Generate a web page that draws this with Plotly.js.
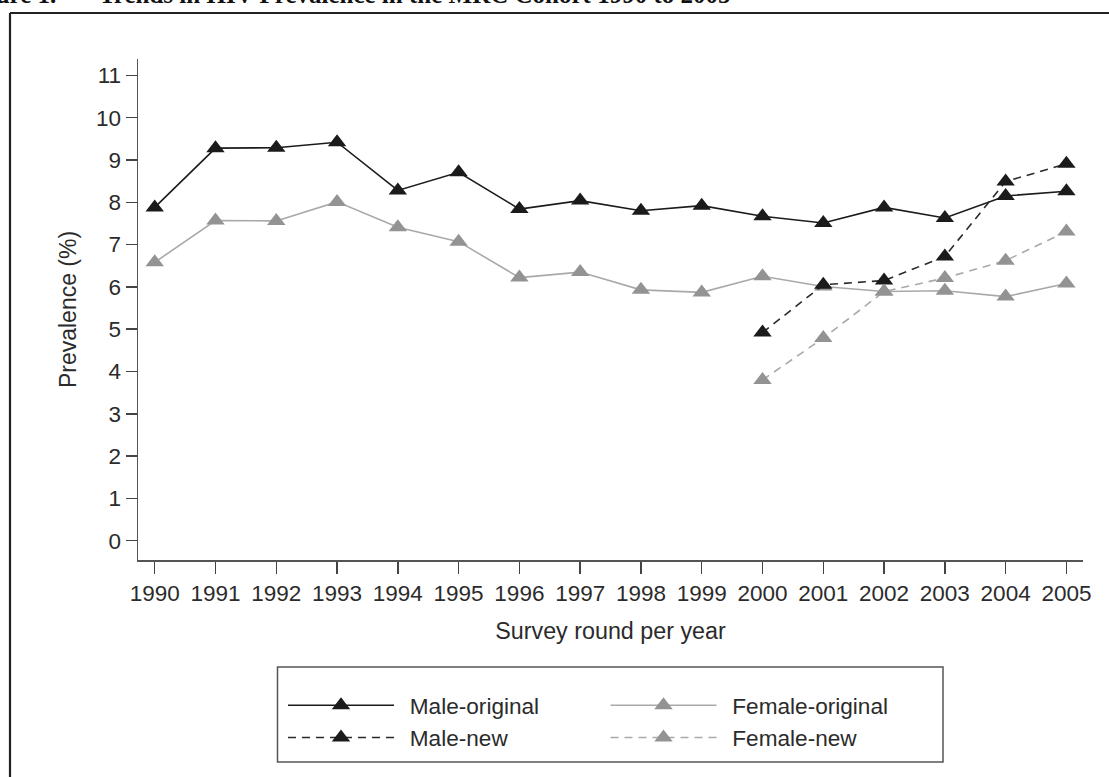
<!DOCTYPE html>
<html>
<head>
<meta charset="utf-8">
<script src="https://cdn.plot.ly/plotly-3.0.1.min.js"></script>
<style>
  html, body { margin: 0; padding: 0; background: #ffffff; }
  #chart { width: 1109px; height: 777px; }
</style>
</head>
<body>
<div id="chart"></div>
<script>
// ---- data ----
const years = [1990, 1991, 1992, 1993, 1994, 1995, 1996, 1997, 1998, 1999, 2000, 2001, 2002, 2003, 2004, 2005];
const maleOriginal   = [7.88, 9.28, 9.29, 9.42, 8.28, 8.71, 7.84, 8.04, 7.80, 7.92, 7.67, 7.51, 7.88, 7.63, 8.15, 8.26];
const femaleOriginal = [6.58, 7.57, 7.56, 8.01, 7.41, 7.07, 6.22, 6.35, 5.93, 5.87, 6.25, 6.01, 5.89, 5.91, 5.77, 6.08];
const newYears  = [2000, 2001, 2002, 2003, 2004, 2005];
const maleNew   = [4.92, 6.05, 6.15, 6.72, 8.49, 8.91];
const femaleNew = [3.80, 4.79, 5.89, 6.21, 6.62, 7.31];
const yTicks = [0, 1, 2, 3, 4, 5, 6, 7, 8, 9, 10, 11];
const seriesNames = ['Male-original', 'Female-original', 'Male-new', 'Female-new'];
const figureLabel = 'Figure 1.';
const figureTitle = 'Trends in HIV Prevalence in the MRC Cohort 1990 to 2005';
const xTitle = 'Survey round per year';
const yTitle = 'Prevalence (%)';

// ---- styling ----
const W = 1109, H = 777;
const M = { l: 138, r: 26, t: 59, b: 217 };
const PW = W - M.l - M.r, PH = H - M.t - M.b;
const px2x = p => (p - M.l) / PW;
const px2y = p => (H - M.b - p) / PH;

const black = '#1b1b1b';
const greyMarker = '#939393';
const greyLine = '#a9a9a9';
const font = 'Liberation Sans, Arial, Helvetica, sans-serif';
const txt = '#2b2b2b';
const pad = '\u00a0\u2009';   // small gap between legend symbol and label

const mk = c => ({ symbol: 'triangle-up', size: 16, color: c });
const traces = [
  { x: years, y: maleOriginal, name: pad + seriesNames[0], legend: 'legend',
    mode: 'lines+markers', line: { color: black, width: 1.6 }, marker: mk(black) },
  { x: years, y: femaleOriginal, name: pad + seriesNames[1], legend: 'legend2',
    mode: 'lines+markers', line: { color: greyLine, width: 1.6 }, marker: mk(greyMarker) },
  { x: newYears, y: maleNew, name: pad + seriesNames[2], legend: 'legend',
    mode: 'lines+markers', line: { color: '#2a2a2a', width: 1.6, dash: '8px,6px' }, marker: mk(black) },
  { x: newYears, y: femaleNew, name: pad + seriesNames[3], legend: 'legend2',
    mode: 'lines+markers', line: { color: greyLine, width: 1.6, dash: '8px,6px' }, marker: mk(greyMarker) }
];

const legendCommon = {
  orientation: 'v', xanchor: 'left', yanchor: 'top',
  bgcolor: 'rgba(0,0,0,0)', borderwidth: 0,
  font: { family: font, size: 22.6, color: txt },
  itemwidth: 106, traceorder: 'normal', tracegroupgap: 0
};

const layout = {
  width: W, height: H,
  margin: M,
  paper_bgcolor: '#ffffff', plot_bgcolor: '#ffffff',
  font: { family: font, size: 22.5, color: txt },
  showlegend: true,
  legend:  Object.assign({}, legendCommon, { x: px2x(283), y: px2y(684) }),
  legend2: Object.assign({}, legendCommon, { x: px2x(605.5), y: px2y(684) }),
  xaxis: {
    range: [1989.725, 2005.273], tickmode: 'array', tickvals: years,
    showgrid: false, zeroline: false,
    showline: true, linecolor: '#555555', linewidth: 1.5,
    ticks: 'outside', ticklen: 12, tickwidth: 1.5, tickcolor: '#444444',
    tickfont: { family: font, size: 22.5, color: txt },
    title: { text: xTitle, font: { family: font, size: 23.3, color: txt }, standoff: 18 },
    automargin: false
  },
  yaxis: {
    range: [-0.457, 11.388], tickmode: 'array', tickvals: yTicks,
    showgrid: false, zeroline: false,
    showline: true, linecolor: '#555555', linewidth: 1.5,
    ticks: 'outside', ticklen: 11, tickwidth: 1.5, tickcolor: '#444444',
    tickfont: { family: font, size: 22.5, color: txt },
    title: { text: yTitle, font: { family: font, size: 23, color: txt }, standoff: 13 },
    automargin: false
  },
  shapes: [
    // legend frame
    { type: 'rect', xref: 'paper', yref: 'paper',
      x0: px2x(277.5), x1: px2x(943), y0: px2y(667), y1: px2y(762),
      line: { color: '#555555', width: 1.5 }, fillcolor: 'rgba(0,0,0,0)' },
    // outer figure frame (left and top edges)
    { type: 'line', xref: 'paper', yref: 'paper',
      x0: px2x(10), x1: px2x(10), y0: px2y(13), y1: px2y(780),
      line: { color: '#222222', width: 2.2 } },
    { type: 'line', xref: 'paper', yref: 'paper',
      x0: px2x(10), x1: px2x(1112), y0: px2y(13), y1: px2y(13),
      line: { color: '#222222', width: 2.2 } }
  ],
  annotations: [
    { xref: 'paper', yref: 'paper', x: px2x(58), y: px2y(10), xanchor: 'right', yanchor: 'bottom',
      text: '<b>' + figureLabel + '</b>', showarrow: false,
      font: { family: 'Liberation Serif, Times New Roman, serif', size: 25, color: '#111111' } },
    { xref: 'paper', yref: 'paper', x: px2x(97), y: px2y(10), xanchor: 'left', yanchor: 'bottom',
      text: '<b>' + figureTitle + '</b>', showarrow: false,
      font: { family: 'Liberation Serif, Times New Roman, serif', size: 25, color: '#111111' } }
  ]
};

Plotly.newPlot('chart', traces, layout, { displayModeBar: false, staticPlot: true });
</script>
</body>
</html>
